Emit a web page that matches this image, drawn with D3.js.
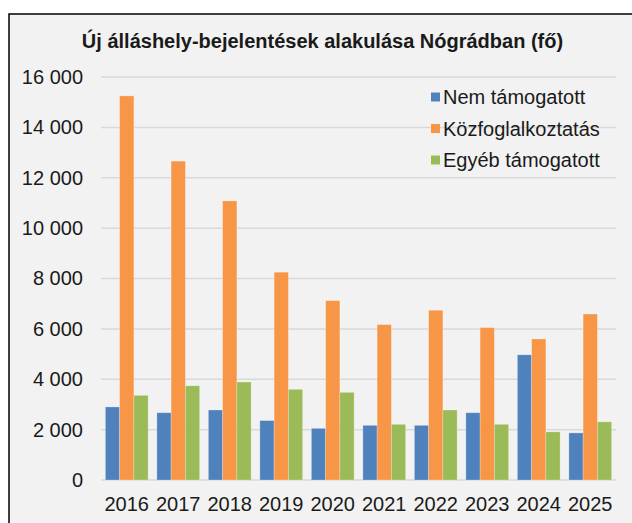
<!DOCTYPE html>
<html>
<head>
<meta charset="utf-8">
<script src="https://cdn.jsdelivr.net/npm/d3@7.9.0/dist/d3.min.js"></script>
<style>
  body { margin: 0; background: #fff; }
  svg { display: block; font-family: "Liberation Sans", Arial, sans-serif; }
</style>
</head>
<body>
<svg id="chart" width="632" height="523"></svg>
<script>
const years = ['2016', '2017', '2018', '2019', '2020', '2021', '2022', '2023', '2024', '2025'];
const seriesNames = ['Nem támogatott', 'Közfoglalkoztatás', 'Egyéb támogatott'];
const nemTamogatott = [2900, 2670, 2780, 2360, 2050, 2170, 2170, 2670, 4970, 1870];
const kozfoglalkoztatas = [15250, 12660, 11080, 8250, 7120, 6170, 6740, 6050, 5600, 6590];
const egyebTamogatott = [3360, 3740, 3890, 3600, 3480, 2210, 2780, 2210, 1910, 2310];
const yTicks = [0, 2000, 4000, 6000, 8000, 10000, 12000, 14000, 16000];
const colors = ['#4F81BD', '#F79646', '#9BBB59'];

const seriesValues = [nemTamogatott, kozfoglalkoztatas, egyebTamogatott];
const rows = years.map((year, i) => ({
  year,
  values: seriesValues.map((vals, s) => ({ key: seriesNames[s], value: vals[i] })),
}));

const svg = d3.select('#chart');

// chart area with frame (cut off at right and bottom)
svg.append('rect')
  .attr('x', 9).attr('y', 14)
  .attr('width', 640).attr('height', 520)
  .attr('fill', '#F2F2F2')
  .attr('stroke', '#000')
  .attr('stroke-width', 1.5);

const x = d3.scaleBand().domain(years).range([101, 616]).paddingInner(0.17).paddingOuter(0.085);
const xInner = d3.scaleBand().domain(seriesNames).range([0, x.bandwidth()]);
const y = d3.scaleLinear().domain([0, 16000]).range([480, 77]);

const fmt = (d) => d3.format(',')(d).replace(/,/g, ' ');

// gridlines
svg.append('g')
  .selectAll('line')
  .data(yTicks)
  .join('line')
  .attr('x1', 101).attr('x2', 616)
  .attr('y1', (d) => y(d)).attr('y2', (d) => y(d))
  .attr('stroke', '#D9D9D9')
  .attr('stroke-width', 1.5);

// bars
svg.append('g')
  .selectAll('g')
  .data(rows)
  .join('g')
  .attr('transform', (d) => `translate(${x(d.year)},0)`)
  .selectAll('rect')
  .data((d) => d.values)
  .join('rect')
  .attr('x', (d) => xInner(d.key))
  .attr('y', (d) => y(d.value))
  .attr('width', xInner.bandwidth())
  .attr('height', (d) => y(0) - y(d.value))
  .attr('fill', (d, i) => colors[i])
  .attr('stroke', 'rgba(255,255,255,0.3)')
  .attr('stroke-width', 0.8);

// y axis labels
const yAxis = svg.append('g')
  .attr('transform', 'translate(101,0)')
  .call(d3.axisLeft(y).tickValues(yTicks).tickFormat(fmt).tickSize(0).tickPadding(18));
yAxis.select('.domain').remove();
yAxis.selectAll('text')
  .attr('font-size', 20)
  .attr('font-family', '"Liberation Sans", Arial, sans-serif')
  .attr('fill', '#1a1a1a');

// x axis labels
const xAxis = svg.append('g')
  .attr('transform', 'translate(0,480)')
  .call(d3.axisBottom(x).tickSize(0).tickPadding(17));
xAxis.select('.domain').remove();
xAxis.selectAll('text')
  .attr('font-size', 20)
  .attr('font-family', '"Liberation Sans", Arial, sans-serif')
  .attr('fill', '#1a1a1a');

// title
svg.append('text')
  .attr('x', 322.5).attr('y', 48)
  .attr('text-anchor', 'middle')
  .attr('font-size', 20)
  .attr('font-weight', 'bold')
  .attr('fill', '#1a1a1a')
  .text('Új álláshely-bejelentések alakulása Nógrádban (fő)');

// legend
const legend = svg.append('g')
  .selectAll('g')
  .data(seriesNames)
  .join('g')
  .attr('transform', (d, i) => `translate(431,${97 + i * 31.5})`);
legend.append('rect')
  .attr('x', 0).attr('y', -4.5)
  .attr('width', 9).attr('height', 9)
  .attr('fill', (d, i) => colors[i]);
legend.append('text')
  .attr('x', 12).attr('y', 0)
  .attr('dy', '0.35em')
  .attr('font-size', 20)
  .attr('fill', '#1a1a1a')
  .text((d) => d);
</script>
</body>
</html>
